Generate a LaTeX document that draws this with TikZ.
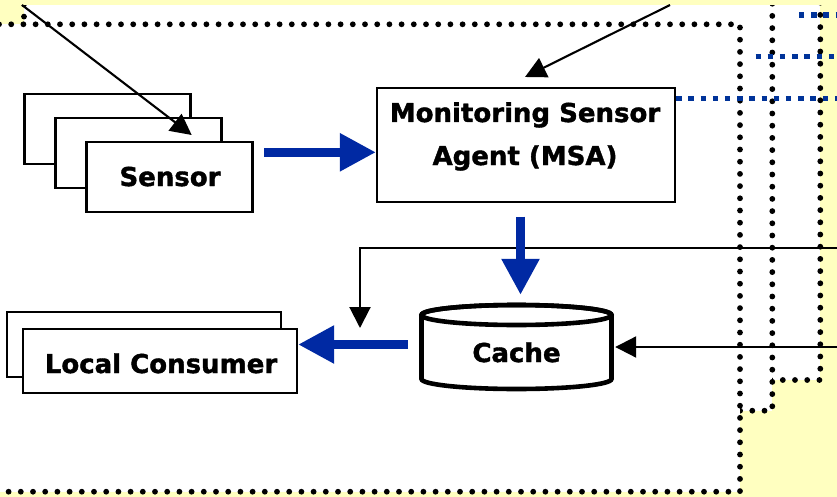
\documentclass[tikz,border=0pt]{standalone}
\usepackage{fontspec}
\newfontfamily\lblfont{DejaVu Sans}[UprightFont={* Bold}, FakeBold=1.5]
\usetikzlibrary{arrows.meta}
\definecolor{bgyellow}{RGB}{255,255,192}
\definecolor{darkblue}{RGB}{0,41,163}
\definecolor{dotblue}{RGB}{0,51,153}
\begin{document}
\begin{tikzpicture}[x=1pt,y=-1pt,
  layer/.style={fill=white, draw=black, line width=5.8pt, line cap=round, dash pattern=on 0pt off 12.2pt},
  bluedots/.style={draw=dotblue, line width=5.4pt, dash pattern=on 5.4pt off 6.8pt},
  sbox/.style={draw=black, fill=white, line width=2.3pt, inner sep=0pt, minimum width=166pt, minimum height=70pt},
  lcbox/.style={draw=black, fill=white, line width=2.3pt, inner sep=0pt, minimum width=274pt, minimum height=64.5pt},
  lbl/.style={inner sep=0pt, font=\lblfont\fontsize{26}{30}\selectfont},
  thinarr/.style={draw=black, line width=2.1pt, -{Triangle[length=21pt,width=21pt]}},
  bluearr/.style={draw=darkblue, line width=8.6pt, -{Triangle[length=36pt,width=36pt]}}
]
\useasboundingbox (0,0) rectangle (837,497);
\clip (0,0) rectangle (837,497);
\fill[bgyellow] (0,0) rectangle (837,497);
% stacked dotted frames
\path[layer] (56,-40) rectangle (820.3,380);
\path[layer] (24,-20) rectangle (772.3,410.7);
\path[layer] (-12,24.3) rectangle (740,491.7);
\fill[bgyellow] (0,0) rectangle (837,5.5);
% nodes
\node[draw=black, fill=white, line width=2.3pt, inner sep=0pt, minimum width=298pt, minimum height=114pt] (msa) at (526,145) {};
\node[sbox] (sensorC) at (107.5,129) {};
\node[sbox] (sensorB) at (138.5,153) {};
\node[sbox] (sensor) at (169.5,177) {};
\node[lcbox] (lcB) at (144,344.5) {};
\node[lcbox] (lc) at (160,361) {};
\node[inner sep=0pt, minimum width=197pt, minimum height=96pt] (cache) at (516.5,343) {};
% cylinder
\draw[line width=4.6pt, fill=white] (421.5,315) -- (421.5,379)
  arc[start angle=180, end angle=360, x radius=95pt, y radius=10pt]
  -- (611.5,315)
  arc[start angle=0, end angle=180, x radius=95pt, y radius=10pt] -- cycle;
\draw[line width=4.6pt] (516.5,315) ellipse[x radius=95pt, y radius=10pt];
% labels
\node[lbl, anchor=base] (sensorT) at (170,186) {Sensor};
\node[lbl, anchor=base] (msaT1) at (525,122) {Monitoring Sensor};
\node[lbl, anchor=base] (msaT2) at (525,165) {Agent (MSA)};
\node[lbl, anchor=base] (lcT) at (161,373) {Local Consumer};
\node[lbl, anchor=base] (cacheT) at (516.5,362) {Cache};
% blue dotted outgoing links
\coordinate (out1) at (840,15);
\coordinate (out2) at (840,56.7);
\coordinate (out3) at (840,98.3);
\coordinate (st1) at (799,15);
\coordinate (st2) at (755.5,56.7);
\draw[bluedots] (st1) -- (out1);
\draw[bluedots] (st2) -- (out2);
\draw[bluedots] (msa.east |- out3) -- (out3);
% thin black incoming arrows
\coordinate (inTL) at (22,5);
\coordinate (tipS) at (191.7,135);
\coordinate (inTR) at (670,5);
\coordinate (tipM) at (525,77);
\coordinate (inR1) at (840,248.3);
\coordinate (tipD) at (360,328);
\coordinate (inR2) at (840,347);
\draw[thinarr] (inTL) -- (tipS);
\draw[thinarr] (inTR) -- (tipM);
\draw[thinarr] (inR1) -| (tipD);
\draw[thinarr] (inR2) -- (inR2 -| cache.east);
% blue data flow arrows
\coordinate (a1s) at (264.3,152.3);
\coordinate (a2s) at (520.5,216.5);
\coordinate (a3s) at (408,344.5);
\draw[bluearr] (a1s) -- (a1s -| msa.west);
\draw[bluearr] (a2s) -- (a2s |- cache.north);
\draw[bluearr] (a3s) -- (a3s -| lc.east);
\end{tikzpicture}
\end{document}
